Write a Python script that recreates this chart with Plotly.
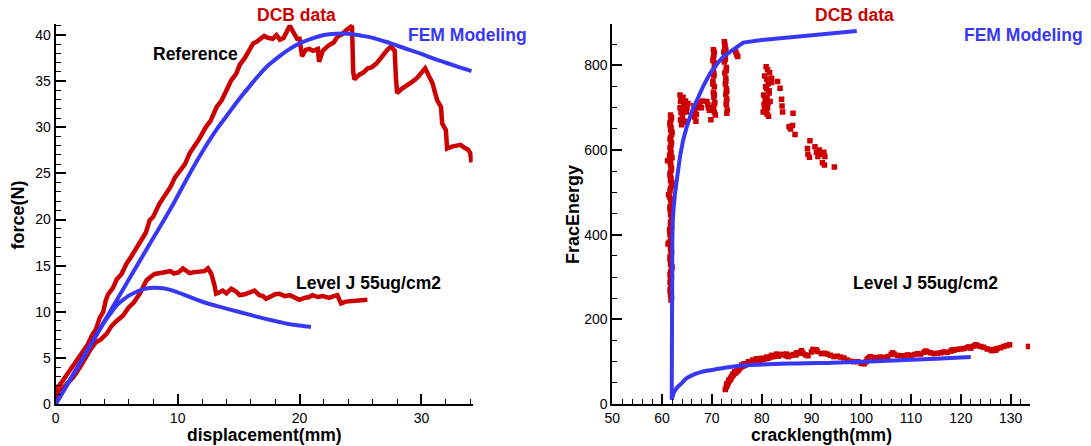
import plotly.graph_objects as go

W, H = 1091, 446
RED = "#CC0000"
BLUE = "#3737F5"
FONT = "Liberation Sans, Arial, sans-serif"

# ---------------- Left panel data ----------------
ref_x = [0.0, 0.05, 0.3, 0.6, 1.0, 1.4, 1.8, 2.2, 2.6, 3.0, 3.3, 3.6, 3.9, 4.1, 4.3, 4.7, 5.0, 5.4, 5.8, 6.2,
         6.6, 7.0, 7.4, 7.7, 8.0, 8.5, 9.0, 9.4, 9.8, 10.2, 10.6, 11.0, 11.4, 11.8, 12.3, 12.7, 13.2, 13.6, 14.0,
         14.4, 14.8, 15.1, 15.5, 15.8, 16.2, 16.5, 16.8, 17.1, 17.4, 17.8, 18.1, 18.4, 18.7, 18.9, 19.2, 19.5,
         19.8, 20.0, 20.2, 20.5, 20.8, 21.1, 21.5, 21.6, 21.9, 22.4, 22.8, 23.1, 23.5, 23.8, 24.1, 24.3, 24.4,
         24.5, 24.9, 25.2, 25.6, 25.9, 26.3, 26.6, 26.9, 27.2, 27.5, 27.8, 27.9, 28.0, 28.4, 28.8, 29.2, 29.6,
         29.9, 30.3, 30.6, 30.9, 31.1, 31.3, 31.6, 31.7, 32.0, 32.1, 32.5, 32.9, 33.2, 33.5, 33.8, 34.0, 34.1]
ref_y = [0.3, 1.8, 2.0, 2.6, 3.3, 4.0, 4.9, 5.6, 6.4, 7.5, 8.1, 9.3, 10.0, 11.2, 11.9, 12.6, 13.5, 14.1, 15.2, 16.0,
         16.9, 17.9, 18.6, 19.9, 20.3, 21.7, 22.6, 23.5, 24.6, 25.4, 26.0, 27.2, 27.9, 28.8, 30.0, 30.7, 32.2, 32.9, 34.0,
         35.1, 35.8, 36.8, 37.5, 38.3, 39.1, 39.3, 39.6, 39.9, 39.7, 39.6, 40.0, 39.5, 39.7, 40.2, 41.0, 40.3,
         39.6, 39.6, 37.7, 38.4, 38.5, 38.3, 38.5, 37.1, 38.3, 38.9, 39.2, 39.8, 40.1, 40.5, 40.9, 41.0, 36.0,
         35.2, 35.7, 35.9, 36.4, 36.5, 36.9, 37.4, 38.0, 38.4, 38.75, 38.3, 35.5, 33.7, 34.2, 34.5, 34.9, 35.3,
         35.8, 36.4, 35.6, 34.8, 33.8, 32.9, 32.2, 30.4, 29.7, 27.7, 27.9, 28.0, 28.1, 27.8, 27.6, 27.2, 26.2]

lvj_x = [0, 0.1, 0.5, 1.0, 1.44, 2.0, 2.4, 2.8, 3.3, 3.7, 4.17, 4.6, 5.0, 5.53, 6.0, 6.4, 6.89, 7.2, 7.44, 7.8,
         8.12, 8.6, 9.07, 9.4, 9.7, 10.1, 10.43, 10.7, 10.98, 11.4, 11.8, 12.2, 12.48, 12.75, 13.0, 13.16, 13.4,
         13.7, 14.0, 14.4, 14.8, 15.07, 15.5, 15.9, 16.3, 16.7, 17.0, 17.25, 17.7, 18.0, 18.34, 18.8, 19.2, 19.6,
         19.98, 20.4, 20.8, 21.06, 21.5, 21.9, 22.43, 22.8, 23.1, 23.3, 23.4, 23.8, 24.33, 24.8, 25.2, 25.56]
lvj_y = [0, 1.2, 1.6, 2.3, 2.9, 4.0, 5.0, 5.8, 6.7, 7.0, 7.6, 8.5, 9.0, 9.6, 10.5, 11.0, 11.96, 12.8, 13.4, 13.8,
         14.1, 14.2, 14.3, 14.4, 14.15, 14.3, 14.7, 14.4, 14.2, 14.3, 14.3, 14.4, 14.7, 14.15, 13.0, 11.96, 12.1,
         12.3, 12.0, 12.5, 12.2, 11.8, 11.9, 12.1, 12.3, 11.8, 11.7, 11.4, 11.7, 11.9, 11.96, 11.7, 11.8, 11.5,
         11.3, 11.5, 11.6, 11.8, 11.6, 11.7, 11.5, 11.7, 11.8, 11.2, 10.9, 11.1, 11.16, 11.2, 11.3, 11.3]

fem_ref_x = [0, 2, 4, 6, 8, 9.35, 11, 12, 13.16, 14, 15.07, 16, 16.7, 17.5, 18.34, 19.2, 20, 21, 22, 23, 24,
             25, 26, 27, 28, 29, 30, 31, 32, 33, 34.1]
fem_ref_y = [0, 4.5, 9.0, 13.5, 18.0, 21.0, 25.0, 27.3, 29.7, 31.2, 33.1, 34.6, 35.7, 36.8, 37.7, 38.5, 39.1,
             39.6, 40.0, 40.15, 40.15, 39.95, 39.7, 39.3, 38.85, 38.4, 37.95, 37.45, 37.0, 36.55, 36.1]

fem_lvj_x = [0, 2, 4, 4.6, 5.0, 5.53, 6.0, 6.62, 7.2, 7.98, 8.8, 9.6, 10.5, 11.4, 12.35, 13.7, 15.07, 16.4,
             17.8, 19.0, 20.0, 20.93]
fem_lvj_y = [0, 4.4, 8.9, 10.0, 10.7, 11.3, 11.75, 12.15, 12.45, 12.6, 12.55, 12.3, 11.85, 11.4, 10.95, 10.45,
             9.97, 9.5, 9.05, 8.7, 8.5, 8.34]

# ---------------- Right panel data ----------------
dcb_cx = [61.7, 61.8, 61.6, 61.7, 61.9, 61.6, 61.8, 61.7, 61.5, 61.1, 61.7, 61.8, 61.6, 61.7, 61.9, 61.6, 61.3,
          61.7, 61.8, 61.6, 61.7, 61.9, 61.7, 61.5, 61.6, 61.8, 61.2, 61.7, 61.8, 61.6, 61.7, 61.9, 61.6, 61.7,
          61.8, 61.6, 61.7, 61.8,
          61.9, 61.6, 61.8, 62.0, 61.7, 61.9, 61.6, 61.8, 62.0, 61.7, 61.9, 61.6, 61.8, 62.0, 61.7, 61.5, 61.9,
          61.6, 61.8, 62.0, 61.7, 61.9, 61.6, 61.8, 61.4, 61.7, 61.9, 61.6, 61.8, 62.0, 61.7, 61.9, 61.6, 61.8,
          61.7, 61.9, 61.6,
          63.6, 63.7, 63.6, 63.8, 63.7, 63.9, 64.2, 64.4, 64.3, 64.6, 64.9, 65.0, 65.2, 64.1, 64.5,
          63.8, 64.0, 64.7, 64.2,
          66.4, 66.6, 66.5, 66.8, 67.0, 67.2, 66.9,
          67.6, 67.9, 68.1,
          69.0, 69.3, 69.5, 69.8, 69.2,
          70.3, 70.4, 70.2, 70.5, 70.3, 70.4, 70.2, 70.5, 70.3, 70.4, 70.6, 70.3, 70.5, 70.7,
          70.5, 70.3, 70.6, 70.4, 70.2, 70.5, 70.4,
          72.5, 72.6, 72.4, 72.7, 72.5, 72.9, 72.6, 72.8, 72.7, 72.9, 72.8, 73.0, 72.9, 73.1, 73.0,
          72.6, 72.8, 72.7, 72.9, 72.8, 73.0, 72.9,
          74.8, 75.0, 75.2,
          80.9, 81.2, 81.6, 80.6, 81.0, 82.0, 81.3, 80.8, 81.5, 80.4, 81.1, 81.7, 80.5, 81.2, 80.9, 81.4, 80.3, 82.0,
          81.0, 81.5, 80.7, 81.3, 80.6, 81.1,
          83.2, 83.7, 84.0, 84.1, 84.2, 86.3, 85.5, 85.8, 86.2, 86.7, 89.7, 89.2, 89.3, 89.6, 90.7, 91.0, 91.3,
          91.6, 91.9, 92.2, 92.5, 92.7, 92.6, 94.6]
dcb_cy = [683, 672, 660, 648, 636, 625, 612, 600, 588, 575, 565, 552, 540, 528, 516, 504, 495,
          484, 472, 460, 448, 436, 424, 412, 400, 388, 378, 366, 354, 342, 330, 318, 306, 294,
          282, 270, 258, 246,
          677, 666, 654, 642, 630, 618, 606, 594, 582, 570, 558, 546, 534, 522, 510, 490, 478,
          466, 454, 442, 430, 418, 406, 394, 382, 372, 360, 348, 336, 324, 312, 300, 288, 276,
          264, 252, 580,
          730, 715, 700, 688, 672, 660, 725, 712, 698, 705, 690, 700, 710, 680, 668,
          722, 694, 716, 665,
          705, 690, 678, 668, 700, 712, 684,
          710, 700, 716,
          715, 700, 694, 672, 708,
          837, 825, 812, 800, 787, 775, 762, 750, 737, 725, 712, 700, 690, 683,
          831, 818, 806, 781, 756, 731, 706,
          856, 845, 832, 820, 808, 795, 782, 770, 757, 745, 732, 720, 707, 695, 687,
          850, 838, 814, 788, 763, 739, 713,
          832, 826, 821,
          797, 790, 783, 775, 768, 770, 757, 750, 740, 730, 724, 715, 708, 700, 690, 680, 690, 760,
          745, 735, 720, 712, 698, 685,
          762, 746, 720, 704, 690, 687, 655, 650, 658, 637, 622, 604, 590, 583, 608, 595, 585,
          600, 590, 570, 595, 585, 565, 560]

dcb_lx = [72.7, 72.9, 73.1, 73.3, 73.5, 73.7, 73.9, 74.1, 74.3, 74.5, 74.8, 75.0, 75.3, 75.6, 75.9, 76.3, 76.7,
          77.1, 77.6, 78.0, 78.4, 78.8, 79.3, 79.8, 80.3, 80.8, 81.3, 81.8, 82.4, 82.9, 83.4, 83.9, 84.4, 84.9,
          85.4, 85.9, 86.4, 86.9, 87.4, 87.9, 88.3, 88.8, 89.3, 90.0, 90.6, 91.2, 92.0, 92.6, 93.2, 93.8, 94.5,
          95.2, 95.8, 96.5, 97.2, 97.8, 98.5, 99.3, 100.0, 100.6, 101.2, 101.8, 102.5, 103.2, 103.8, 104.6, 105.3,
          106.0, 106.6, 107.3, 108.0, 108.7, 109.3, 110.0, 110.7, 111.3, 111.9, 112.6, 113.2, 113.9, 114.6, 115.3,
          116.0, 116.6, 117.3, 118.0, 118.6, 119.3, 120.0, 120.6, 121.3, 122.0, 122.6, 123.3, 124.0, 124.6, 125.3,
          126.0, 126.6, 127.3, 128.0, 128.6, 129.2, 129.8, 133.6,
          73.0, 73.4, 73.8, 74.2, 74.6, 75.1, 75.5, 76.0, 76.5, 77.3, 78.2, 79.0, 80.0, 81.0, 82.0, 83.0, 85.0,
          87.0, 88.0, 90.3, 91.0, 101.0, 101.5, 106.3, 112.9, 118.3, 121.6, 123.0, 126.3, 127.0]
dcb_ly = [34, 40, 45, 50, 55, 58, 63, 66, 69, 72, 74, 77, 80, 84, 88, 90, 92,
          95, 97, 100, 99, 103, 104, 103, 105, 107, 108, 111, 112, 114, 113, 117, 117, 114,
          112, 115, 117, 116, 120, 123, 120, 116, 114, 123, 127, 124, 119, 120, 118, 115, 112,
          113, 111, 109, 104, 101, 100, 100, 96, 95, 106, 112, 110, 109, 111, 110, 112,
          117, 118, 115, 114, 114, 116, 115, 117, 119, 118, 122, 124, 121, 119, 120,
          121, 123, 122, 125, 127, 129, 130, 131, 133, 132, 137, 138, 136, 134, 130,
          128, 129, 131, 133, 136, 138, 140, 136,
          48, 56, 60, 70, 76, 82, 87, 92, 95, 100, 104, 107, 108, 111, 115, 118, 118,
          121, 126, 129, 128, 100, 109, 121, 125, 128, 135, 140, 126, 127]

fem_up_x = [99.1, 95.8, 90, 85, 80, 76.3, 75.0, 73.5, 72.3, 71.0, 69.64, 68.3, 66.96, 66.0, 64.95, 64.2, 63.6,
            63.0, 62.6, 62.3, 62.14, 62.05, 62.0, 61.96, 61.94, 61.94]
fem_up_y = [881.5, 878, 872, 866, 860, 854, 844, 832, 821, 803, 781.5, 752, 718.5, 692, 655, 622, 585,
            540, 498, 460, 435, 380, 300, 200, 100, 10]
fem_lo_x = [61.94, 62.3, 62.94, 64.0, 64.95, 66.2, 67.6, 69.2, 71.0, 73.3, 75.7, 79.0, 82.4, 87.0, 91.7, 95.8,
            100.0, 105.2, 110.0, 115.0, 122.0]
fem_lo_y = [10, 25, 37.7, 50, 61, 69, 74.7, 79, 82.6, 86.8, 90.4, 92.5, 94.4, 96, 96.7, 98.3,
            99.7, 102, 104.5, 107, 111]

# ---------------- Figure ----------------
fig = go.Figure()
rw, bw = 4.5, 4
fig.add_trace(go.Scatter(x=ref_x, y=ref_y, mode="lines", line=dict(color=RED, width=rw), xaxis="x", yaxis="y"))
fig.add_trace(go.Scatter(x=lvj_x, y=lvj_y, mode="lines", line=dict(color=RED, width=rw), xaxis="x", yaxis="y"))
fig.add_trace(go.Scatter(x=fem_ref_x, y=fem_ref_y, mode="lines", line=dict(color=BLUE, width=bw, shape="spline"),
                         xaxis="x", yaxis="y"))
fig.add_trace(go.Scatter(x=fem_lvj_x, y=fem_lvj_y, mode="lines", line=dict(color=BLUE, width=bw, shape="spline"),
                         xaxis="x", yaxis="y"))

mk = dict(symbol="square", size=5.5, color=RED, line=dict(width=0))
fig.add_trace(go.Scatter(x=dcb_cx, y=dcb_cy, mode="markers", marker=mk, xaxis="x2", yaxis="y2"))
fig.add_trace(go.Scatter(x=dcb_lx, y=dcb_ly, mode="markers", marker=mk, xaxis="x2", yaxis="y2"))
fig.add_trace(go.Scatter(x=fem_up_x, y=fem_up_y, mode="lines", line=dict(color=BLUE, width=bw),
                         xaxis="x2", yaxis="y2"))
fig.add_trace(go.Scatter(x=fem_lo_x, y=fem_lo_y, mode="lines", line=dict(color=BLUE, width=bw, shape="spline"),
                         xaxis="x2", yaxis="y2"))


def fx(px):
    return px / W


def fy(py):
    return 1 - py / H


ydom = [fy(404), fy(24)]


def axis(domain, rng, dtick, mdtick, anchor, t0=0):
    return dict(domain=domain, range=rng, dtick=dtick, tick0=t0, anchor=anchor,
                showline=True, linecolor="black", linewidth=2, mirror=False,
                ticks="inside", ticklen=10, tickwidth=2, tickcolor="black",
                minor=dict(dtick=mdtick, tick0=t0, ticks="inside", ticklen=5, tickwidth=1, tickcolor="black"),
                showgrid=False, zeroline=False, automargin=False,
                tickfont=dict(family=FONT, size=14, color="black"))


fig.update_layout(
    width=W, height=H, margin=dict(l=0, r=0, t=0, b=0, autoexpand=False),
    paper_bgcolor="white", plot_bgcolor="white", showlegend=False,
    xaxis=axis([fx(55.7), fx(472.7)], [0, 34.2], 10, 2, "y"),
    yaxis=axis(ydom, [0, 41.2], 5, 1, "x"),
    xaxis2=axis([fx(612.3), fx(1030)], [50, 133.9], 10, 2, "y2", 50),
    yaxis2=axis(ydom, [0, 898], 200, 50, "x2"),
)


def ann(text, px, py, color="black", size=17.5, angle=0):
    fig.add_annotation(text=text, x=fx(px), y=fy(py), xref="paper", yref="paper",
                       xanchor="center", yanchor="middle", showarrow=False, textangle=angle,
                       font=dict(family=FONT, size=size, color=color, weight="bold"))


# left annotations
ann("DCB data", 297, 15, RED)
ann("FEM Modeling", 467, 35, BLUE)
ann("Reference", 195.7, 54)
ann("Level J 55ug/cm2", 368.3, 283)
ann("displacement(mm)", 264.7, 435, size=17.5)
ann("force(N)", 17.5, 215, size=18, angle=-90)
# right annotations
ann("DCB data", 854, 15, RED)
ann("FEM Modeling", 1023.7, 35, BLUE)
ann("Level J 55ug/cm2", 925.3, 283)
ann("cracklength(mm)", 821, 435, size=17.5)
ann("FracEnergy", 573, 215, size=18, angle=-90)

fig.write_html("out.html")
